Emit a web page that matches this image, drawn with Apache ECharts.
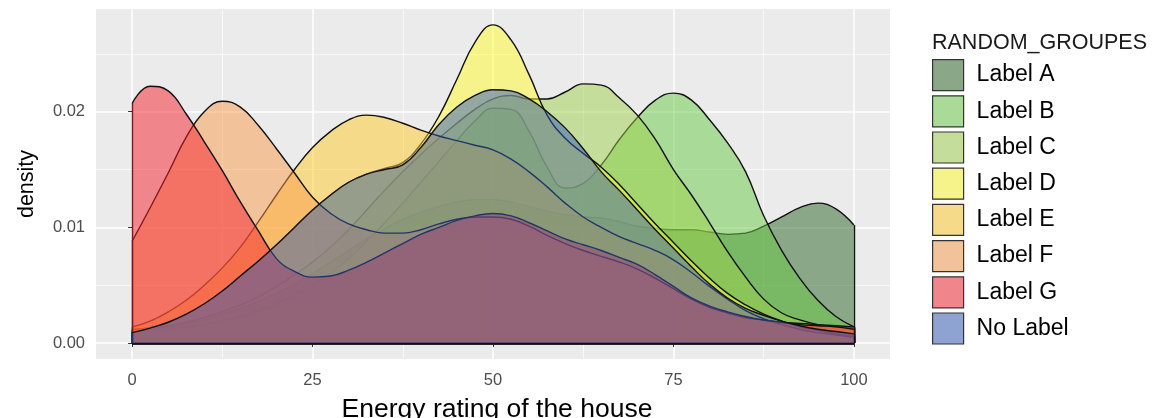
<!DOCTYPE html>
<html>
<head>
<meta charset="utf-8">
<script src="https://cdn.jsdelivr.net/npm/echarts@6/dist/echarts.min.js"></script>
<style>
html,body{margin:0;padding:0;background:#ffffff;}
#chart{width:1156px;height:418px;}
</style>
</head>
<body>
<div id="chart"></div>
<script>
// ---------- data ----------
const xValues = [0,2.5,5,7.5,10,12.5,15,17.5,20,22.5,25,27.5,30,32.5,35,37.5,40,42.5,45,47.5,50,52.5,55,57.5,60,62.5,65,67.5,70,72.5,75,77.5,80,82.5,85,87.5,90,92.5,95,97.5,100];

const labelA = [0.0011,0.0012,0.0014,0.0017,0.0020,0.0025,0.0030,0.0036,0.0043,0.0051,0.0060,0.0070,0.0080,0.0090,0.0099,0.0107,0.0113,0.0118,0.0122,0.0124,0.0124,0.0122,0.0118,0.0114,0.0111,0.0109,0.0108,0.0105,0.0101,0.0099,0.0098,0.0098,0.0096,0.0094,0.0095,0.0101,0.0109,0.0117,0.0121,0.0116,0.0102];
const labelB = [0.0010,0.0011,0.0012,0.0014,0.0016,0.0019,0.0023,0.0028,0.0034,0.0041,0.0050,0.0060,0.0073,0.0088,0.0104,0.0121,0.0139,0.0157,0.0175,0.0192,0.0203,0.0202,0.0183,0.0152,0.0134,0.0138,0.0154,0.0176,0.0195,0.0210,0.0216,0.0210,0.0193,0.0173,0.0148,0.0110,0.0080,0.0056,0.0037,0.0023,0.0014];
const labelC = [0.0012,0.0013,0.0015,0.0018,0.0022,0.0027,0.0033,0.0040,0.0049,0.0059,0.0070,0.0083,0.0098,0.0115,0.0132,0.0148,0.0163,0.0177,0.0190,0.0202,0.0211,0.0214,0.0211,0.0211,0.0217,0.0224,0.0223,0.0212,0.0197,0.0176,0.0150,0.0128,0.0104,0.0079,0.0057,0.0038,0.0026,0.0020,0.0016,0.0014,0.0013];
const labelD = [0.0009,0.0013,0.0018,0.0025,0.0034,0.0045,0.0058,0.0071,0.0085,0.0100,0.0115,0.0128,0.0139,0.0146,0.0151,0.0156,0.0172,0.0196,0.0228,0.0260,0.0275,0.0262,0.0232,0.0197,0.0177,0.0164,0.0152,0.0137,0.0120,0.0103,0.0087,0.0071,0.0056,0.0043,0.0033,0.0025,0.0019,0.0014,0.0011,0.0008,0.0006];
const labelE = [0.0014,0.0019,0.0027,0.0037,0.0050,0.0065,0.0083,0.0105,0.0128,0.0150,0.0169,0.0183,0.0193,0.0197,0.0195,0.0190,0.0184,0.0179,0.0175,0.0171,0.0167,0.0159,0.0148,0.0135,0.0121,0.0109,0.0100,0.0092,0.0086,0.0080,0.0072,0.0061,0.0049,0.0038,0.0028,0.0021,0.0016,0.0012,0.0009,0.0007,0.0005];
const labelF = [0.0088,0.0117,0.0147,0.0178,0.0200,0.0209,0.0204,0.0188,0.0168,0.0147,0.0126,0.0112,0.0103,0.0098,0.0095,0.0095,0.0098,0.0103,0.0107,0.0109,0.0109,0.0107,0.0101,0.0093,0.0086,0.0080,0.0075,0.0070,0.0064,0.0056,0.0047,0.0038,0.0031,0.0026,0.0022,0.0020,0.0018,0.0017,0.0016,0.0015,0.0014];
const labelG = [0.0207,0.0222,0.0218,0.0198,0.0174,0.0149,0.0122,0.0097,0.0073,0.0062,0.0057,0.0058,0.0063,0.0070,0.0078,0.0086,0.0094,0.0100,0.0106,0.0110,0.0112,0.0110,0.0104,0.0097,0.0090,0.0085,0.0080,0.0074,0.0068,0.0059,0.0049,0.0039,0.0032,0.0027,0.0023,0.0020,0.0018,0.0016,0.0015,0.0014,0.0012];
const noLabel = [0.0009,0.0013,0.0018,0.0025,0.0034,0.0045,0.0058,0.0071,0.0085,0.0100,0.0115,0.0128,0.0139,0.0146,0.0150,0.0154,0.0169,0.0189,0.0204,0.0214,0.0219,0.0218,0.0211,0.0200,0.0186,0.0168,0.0148,0.0132,0.0115,0.0098,0.0082,0.0066,0.0051,0.0039,0.0030,0.0024,0.0019,0.0015,0.0012,0.0010,0.0008];

const groupNames = ['Label A','Label B','Label C','Label D','Label E','Label F','Label G','No Label'];
const groupValues = [labelA, labelB, labelC, labelD, labelE, labelF, labelG, noLabel];

const xTicks = [0, 25, 50, 75, 100];
const xMinorTicks = [12.5, 37.5, 62.5, 87.5];
const yTicks = [0, 0.01, 0.02];
const yMinorTicks = [0.005, 0.015, 0.025];

const xTitle = 'Energy rating of the house';
const yTitle = 'density';
const legendTitle = 'RANDOM_GROUPES';

// ---------- style ----------
const baseColors = ['#296523','#67C945','#9DCF49','#FFFB29','#FFC929','#F99B49','#F5212B','#335BBB'];
const fillAlpha = 0.5;
const panelBg = '#EBEBEB';
const FONT = '"Liberation Sans", Arial, Helvetica, sans-serif';

function hexToRgb(h){ return [parseInt(h.slice(1,3),16),parseInt(h.slice(3,5),16),parseInt(h.slice(5,7),16)]; }
function blendOver(hex, a, bgHex){
  const c = hexToRgb(hex), b = hexToRgb(bgHex);
  return 'rgb(' + c.map((v,k)=>Math.round(a*v + (1-a)*b[k])).join(',') + ')';
}

const xMin = -5, xMax = 105;
const yMin = -0.001375, yMax = 0.028875;

const series = groupNames.map((name, i) => {
  const vals = groupValues[i];
  const x0 = xValues[0], x1 = xValues[xValues.length - 1];
  const zi = 3 + i;
  return {
    name: name,
    type: 'line',
    xAxisIndex: 0,
    yAxisIndex: 0,
    z: zi,
    smooth: 0.45,
    symbol: 'none',
    showSymbol: false,
    silent: true,
    animation: false,
    data: xValues.map((x, j) => [x, vals[j]]),
    lineStyle: { color: '#111111', width: 1.4 },
    itemStyle: { color: baseColors[i] },
    areaStyle: { color: baseColors[i], opacity: fillAlpha },
    emphasis: { disabled: true },
    markLine: {
      z: zi,
      silent: true,
      animation: false,
      symbol: ['none', 'none'],
      label: { show: false },
      emphasis: { disabled: true },
      lineStyle: { color: '#111111', width: 1.4, type: 'solid' },
      data: [
        [{ coord: [x0, 0] }, { coord: [x0, vals[0]] }],
        [{ coord: [x1, 0] }, { coord: [x1, vals[vals.length - 1]] }],
        [{ coord: [x0, 0] }, { coord: [x1, 0] }]
      ]
    }
  };
});

const chart = echarts.init(document.getElementById('chart'), null, { renderer: 'canvas' });
chart.setOption({
  backgroundColor: '#ffffff',
  animation: false,
  title: {
    text: legendTitle,
    left: 932,
    top: 32,
    padding: 0,
    textStyle: { fontFamily: FONT, fontSize: 21.5, fontWeight: 'normal', color: '#1a1a1a' }
  },
  legend: {
    orient: 'vertical',
    left: 932,
    top: 59,
    padding: 0,
    itemWidth: 31,
    itemHeight: 31,
    itemGap: 4,
    icon: 'rect',
    selectedMode: false,
    textStyle: { fontFamily: FONT, fontSize: 23, color: '#000000', padding: [0, 0, 0, 8] },
    data: groupNames.map((n, i) => ({
      name: n,
      itemStyle: { color: blendOver(baseColors[i], fillAlpha, panelBg), borderColor: '#333333', borderWidth: 1.2, opacity: 1 }
    }))
  },
  grid: {
    left: 96, top: 9, width: 794, height: 350,
    outerBoundsMode: 'none',
    containLabel: false,
    show: true, backgroundColor: panelBg, borderWidth: 0
  },
  xAxis: [
    {
      type: 'value', min: xMin, max: xMax,
      axisLine: { show: false },
      axisTick: { show: true, customValues: xTicks, length: 4, lineStyle: { color: '#333333', width: 1 } },
      axisLabel: { customValues: xTicks, color: '#4d4d4d', fontSize: 16.5, fontFamily: FONT, margin: 13 },
      splitLine: { show: true, lineStyle: { color: '#ffffff', width: 1.5 } },
      name: xTitle, nameLocation: 'middle', nameGap: 37,
      nameTextStyle: { fontFamily: FONT, fontSize: 26.5, color: '#000000', padding: [0, 0, 0, 8] }
    },
    {
      type: 'value', min: xMin, max: xMax, position: 'bottom',
      axisLine: { show: false },
      axisTick: { show: false, customValues: xMinorTicks },
      axisLabel: { show: false, customValues: xMinorTicks },
      splitLine: { show: true, lineStyle: { color: '#ffffff', width: 0.7 } }
    }
  ],
  yAxis: [
    {
      type: 'value', min: yMin, max: yMax,
      axisLine: { show: false },
      axisTick: { show: true, customValues: yTicks, length: 4, lineStyle: { color: '#333333', width: 1 } },
      axisLabel: { customValues: yTicks, color: '#4d4d4d', fontSize: 16.5, fontFamily: FONT, margin: 11,
                   formatter: v => Number(v).toFixed(2) },
      splitLine: { show: true, lineStyle: { color: '#ffffff', width: 1.5 } },
      name: yTitle, nameLocation: 'middle', nameGap: 58,
      nameTextStyle: { fontFamily: FONT, fontSize: 21.5, color: '#000000' }
    },
    {
      type: 'value', min: yMin, max: yMax, position: 'left',
      axisLine: { show: false },
      axisTick: { show: false, customValues: yMinorTicks },
      axisLabel: { show: false, customValues: yMinorTicks },
      splitLine: { show: true, lineStyle: { color: '#ffffff', width: 0.7 } }
    }
  ],
  series: series
});
</script>
</body>
</html>
